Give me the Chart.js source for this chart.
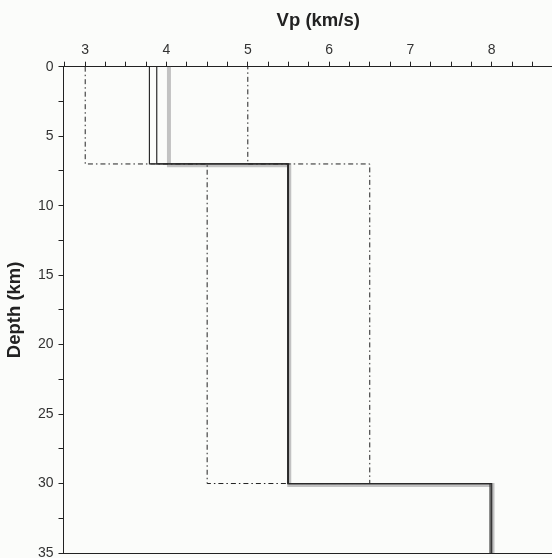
<!DOCTYPE html>
<html>
<head>
<meta charset="utf-8">
<script src="https://cdn.jsdelivr.net/npm/chart.js@4/dist/chart.umd.min.js"></script>
<style>
  html, body { margin: 0; padding: 0; overflow: hidden; background: #fbfcfa; }
  canvas { display: block; }
</style>
</head>
<body>
<canvas id="vp-chart" width="573" height="558"></canvas>
<script>
// layer interfaces (km) and Vp per layer (km/s)
const layerDepths = [0, 7, 30, 35];
const modelA = [3.79, 5.49, 7.98];
const modelB = [3.88, 5.5, 8.0];
const refDepths = [0, 7.1, 30.1, 35];
const refModel = [4.03, 5.51, 8.01];
// search bounds
const boundDepths = [0, 7, 30];
const lowerBound = [3.0, 4.5];
const upperBound = [5.0, 6.5];

const FONT = '"Liberation Sans", Arial, sans-serif';

/**
 * Turn layer values into step points (velocity vs depth)
 */
const toSteps = (vals, depths) => {
    const pts = [];
    vals.forEach((v, i) => {
        pts.push({ x: v, y: depths[i] });
        pts.push({ x: v, y: depths[i + 1] });
    });
    return pts;
};

const boundsPath = toSteps(lowerBound, boundDepths)
    .concat(toSteps(upperBound, boundDepths).reverse());

const bgPlugin = {
    id: "bg",
    beforeDraw: (chart) => {
        const ctx = chart.ctx;
        ctx.save();
        ctx.fillStyle = "#fbfcfa";
        ctx.fillRect(0, 0, chart.width, chart.height);
        ctx.restore();
    },
};

const lineSet = (data, color, width, dash) => ({
    data: data,
    showLine: true,
    borderColor: color,
    borderWidth: width,
    borderDash: dash || [],
    pointRadius: 0,
    fill: false,
    tension: 0,
});

const data = {
    datasets: [
        lineSet(toSteps(modelA, layerDepths), "#2a2a2a", 1.2),
        lineSet(toSteps(modelB, layerDepths), "#2a2a2a", 1.2),
        lineSet(boundsPath, "#222", 1, [5, 3, 1.5, 3]),
        lineSet(toSteps(refModel, refDepths), "#c2c2c2", 4),
    ],
};

// no label padding, so the plot area stays where the axes put it
const noPad = (scale) => {
    scale.paddingTop = 0;
    scale.paddingBottom = 0;
    scale.paddingLeft = 0;
    scale.paddingRight = 0;
};

const options = {
    responsive: false,
    animation: false,
    layout: { padding: { top: 0, right: 0, bottom: 5, left: 0 } },
    plugins: {
        legend: { display: false },
        tooltip: { enabled: false },
    },
    scales: {
        x: {
            type: "linear",
            position: "top",
            min: 2.733,
            max: 9,
            afterBuildTicks: (scale) => {
                const t = [];
                for (let v = 2.75; v <= 8.751; v += 0.25) t.push({ value: v });
                scale.ticks = t;
            },
            afterFit: (scale) => { scale.height = 66.7; noPad(scale); },
            ticks: {
                autoSkip: false,
                maxRotation: 0,
                padding: 3,
                color: "#333",
                font: { family: FONT, size: 14 },
                callback: (v) => (Math.abs(v - Math.round(v)) < 1e-6 ? String(Math.round(v)) : ""),
            },
            grid: { drawOnChartArea: false, drawTicks: true, tickLength: 5, color: "#222" },
            border: { display: true, color: "#222", width: 1 },
            title: {
                display: true,
                text: "Vp (km/s)",
                color: "#222",
                font: { family: FONT, size: 18.5, weight: "bold" },
                padding: { top: 10, bottom: 0 },
            },
        },
        x2: {
            type: "linear",
            position: "bottom",
            min: 2.733,
            max: 9,
            afterFit: (scale) => { scale.height = 0; noPad(scale); },
            ticks: { display: false },
            grid: { display: false, drawTicks: false },
            border: { display: true, color: "#222", width: 1 },
        },
        y: {
            type: "linear",
            reverse: true,
            min: 0,
            max: 35,
            afterBuildTicks: (scale) => {
                const t = [];
                for (let v = 0; v <= 35; v += 2.5) t.push({ value: v });
                scale.ticks = t;
            },
            afterFit: (scale) => { scale.width = 63.5; noPad(scale); },
            ticks: {
                autoSkip: false,
                padding: 5,
                color: "#333",
                font: { family: FONT, size: 14 },
                callback: (v) => (v % 5 === 0 ? String(v) : ""),
            },
            grid: { drawOnChartArea: false, drawTicks: true, tickLength: 5, color: "#222" },
            border: { display: true, color: "#222", width: 1 },
            title: {
                display: true,
                text: "Depth (km)",
                color: "#222",
                font: { family: FONT, size: 18.5, weight: "bold" },
                padding: { top: 4, bottom: 0 },
            },
        },
    },
};

new Chart(document.getElementById("vp-chart"), {
    type: "scatter",
    data: data,
    options: options,
    plugins: [bgPlugin],
});
</script>
</body>
</html>
